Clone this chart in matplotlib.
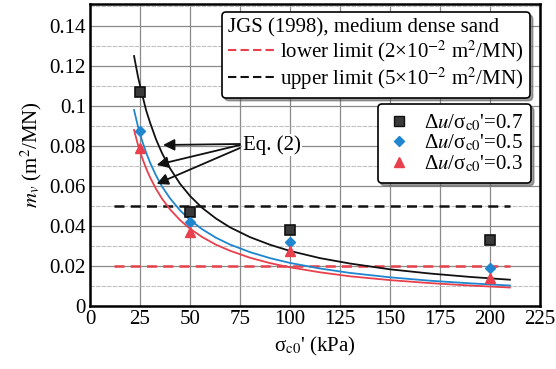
import matplotlib
matplotlib.use("Agg")
import matplotlib.pyplot as plt
from matplotlib.lines import Line2D

plt.rcParams['font.family'] = ['Liberation Serif', 'DejaVu Serif']
plt.rcParams['mathtext.fontset'] = 'stix'

# measured points (sigma_c0' in kPa, m_v in m2/MN)
sig_pts = [25, 50, 100, 200]
mv_07 = [0.107, 0.047, 0.038, 0.033]
mv_05 = [0.0877, 0.042, 0.032, 0.019]
mv_03 = [0.079, 0.037, 0.0277, 0.014]

# Eq. (2) curves
eq_x = [22, 24, 26, 28, 30, 33, 36, 40, 45, 50, 56, 63, 70, 80, 90, 100,
        115, 130, 150, 170, 190, 210]
eq_07 = [0.125, 0.1145, 0.106, 0.098, 0.0917, 0.0833, 0.0764, 0.0688, 0.0611,
         0.055, 0.0491, 0.0437, 0.0393, 0.0344, 0.0306, 0.0275, 0.0239, 0.0212,
         0.0183, 0.0162, 0.0145, 0.0131]
eq_05 = [0.098, 0.0896, 0.0827, 0.0768, 0.0717, 0.0652, 0.0597, 0.0538, 0.0478,
         0.043, 0.0384, 0.0341, 0.0307, 0.0269, 0.0239, 0.0215, 0.0187, 0.0165,
         0.0143, 0.0126, 0.0113, 0.0102]
eq_03 = [0.088, 0.0804, 0.0742, 0.0689, 0.0643, 0.0585, 0.0536, 0.0483, 0.0429,
         0.0386, 0.0345, 0.0306, 0.0276, 0.0241, 0.0214, 0.0193, 0.0168, 0.0148,
         0.0129, 0.0114, 0.0102, 0.0092]

# JGS (1998) limits
lim_x = [12, 210]
lower_lim = 0.02
upper_lim = 0.05

black = '#111111'
blue = '#1f86cf'
red = '#e8404c'

fig = plt.figure(figsize=(5.56, 3.69), dpi=100)
ax = fig.add_axes([0.162, 0.171, 0.809, 0.818])

ax.set_xlim(0, 225)
ax.set_ylim(0, 0.151)
ax.set_xticks(range(0, 226, 25))
ax.set_yticks([0, 0.02, 0.04, 0.06, 0.08, 0.1, 0.12, 0.14])
ax.set_yticklabels(['0', '0.02', '0.04', '0.06', '0.08', '0.1', '0.12', '0.14'])
ax.set_yticks([0.01, 0.03, 0.05, 0.07, 0.09, 0.11, 0.13, 0.15], minor=True)
ax.grid(True, which='major', color='#8a8a8a', lw=0.9)
ax.grid(True, which='minor', axis='y', color='#c0c0c0', lw=0.8, ls=(0, (4, 1)))
ax.set_axisbelow(True)
ax.tick_params(which='both', length=0, labelsize=15, pad=3)
for s in ax.spines.values():
    s.set_linewidth(1.8)
    s.set_color('black')

ax.plot(lim_x, [lower_lim] * 2, color=red, ls=(0, (4, 2.5)), lw=1.8)
ax.plot(lim_x, [upper_lim] * 2, color=black, ls=(0, (4, 2.5)), lw=1.8)

ax.plot(eq_x, eq_03, color=red, lw=1.3)
ax.plot(eq_x, eq_05, color=blue, lw=1.3)
ax.plot(eq_x, eq_07, color=black, lw=1.3)

ax.plot(sig_pts, mv_07, ls='none', marker='s', ms=6.5, mfc='#3a3a3a', mec=black, mew=1.2)
ax.plot(sig_pts, mv_05, ls='none', marker='D', ms=5.5, mfc=blue, mec=blue)
ax.plot(sig_pts, mv_03, ls='none', marker='^', ms=6.5, mfc=red, mec=red)

# Eq. (2) label with arrows
ax.text(91, 0.0805, 'Eq. (2)', fontsize=15, ha='center', va='center',
        bbox=dict(facecolor='white', edgecolor='none', pad=1))
arr = dict(arrowstyle='-|>', color=black, lw=1.3, mutation_scale=17, shrinkA=0, shrinkB=0)
ax.annotate('', xy=(36.5, 0.0805), xytext=(75, 0.081), arrowprops=arr)
ax.annotate('', xy=(33.3, 0.0705), xytext=(75, 0.0805), arrowprops=arr)
ax.annotate('', xy=(33.3, 0.061), xytext=(75, 0.079), arrowprops=arr)

ax.set_xlabel("σ$_{\\rm c0}$' (kPa)", fontsize=15, labelpad=4)
ax.set_ylabel("$m_v$ (m$^2$/MN)", fontsize=15, labelpad=4)

h1 = [Line2D([], [], color=red, ls=(0, (4, 2)), lw=1.5),
      Line2D([], [], color=black, ls=(0, (4, 2)), lw=1.5)]
leg1 = ax.legend(h1, ['lower limit (2×10$^{-2}$ m$^2$/MN)',
                      'upper limit (5×10$^{-2}$ m$^2$/MN)'],
                 title='JGS (1998), medium dense sand', title_fontsize=15,
                 alignment='left', fontsize=15, loc='upper right',
                 bbox_to_anchor=(0.953, 0.967), bbox_transform=fig.transFigure,
                 borderaxespad=0, handlelength=2.2, handletextpad=0.3,
                 labelspacing=0.05, borderpad=0.3, framealpha=1,
                 fancybox=True, shadow=True, edgecolor='black')
leg1.get_frame().set_linewidth(1.2)
ax.add_artist(leg1)

h2 = [Line2D([], [], ls='none', marker='s', ms=6.5, mfc='#3a3a3a', mec=black),
      Line2D([], [], ls='none', marker='D', ms=5.5, mfc=blue, mec=blue),
      Line2D([], [], ls='none', marker='^', ms=6.5, mfc=red, mec=red)]
leg2 = ax.legend(h2, ["Δ$u$/σ$_{\\rm c0}$'=0.7", "Δ$u$/σ$_{\\rm c0}$'=0.5",
                      "Δ$u$/σ$_{\\rm c0}$'=0.3"],
                 fontsize=15, loc='upper right', bbox_to_anchor=(0.955, 0.718),
                 bbox_transform=fig.transFigure, borderaxespad=0,
                 handlelength=1.2, handletextpad=0.6, labelspacing=0.0,
                 borderpad=0.4, framealpha=1, fancybox=True, shadow=True,
                 edgecolor='black')
leg2.get_frame().set_linewidth(1.2)

fig.savefig('out.png', dpi=100)
